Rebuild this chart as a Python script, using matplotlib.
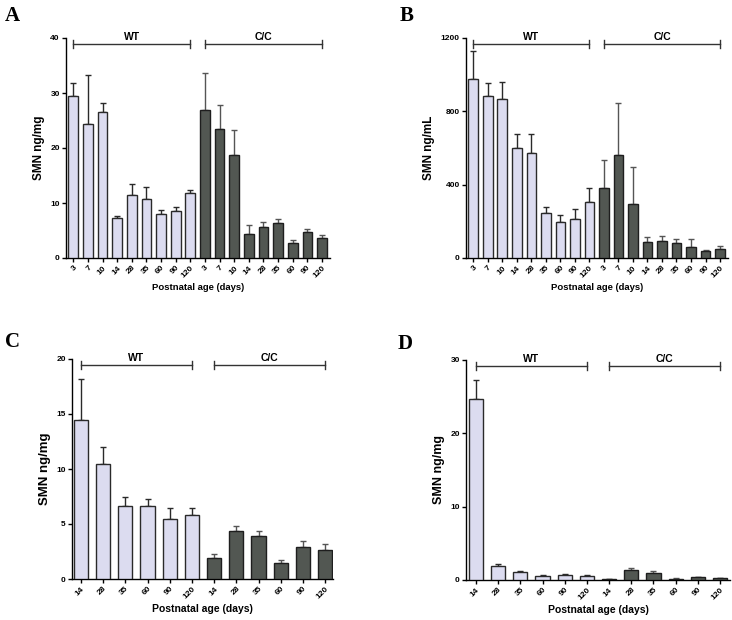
import matplotlib
matplotlib.use('Agg')
import matplotlib.pyplot as plt
import numpy as np

# DATA
ages_long = ['3', '7', '10', '14', '28', '35', '60', '90', '120']
ages_short = ['14', '28', '35', '60', '90', '120']

# Panel A
A_wt = [29.5, 24.4, 26.6, 7.2, 11.5, 10.8, 8.0, 8.6, 11.8]
A_wt_err = [2.3, 8.8, 1.6, 0.5, 1.9, 2.1, 0.8, 0.7, 0.6]
A_cc = [26.9, 23.5, 18.8, 4.4, 5.7, 6.3, 2.8, 4.7, 3.7]
A_cc_err = [6.7, 4.3, 4.5, 1.6, 0.8, 0.8, 0.4, 0.5, 0.5]

# Panel B
B_wt = [979, 886, 868, 602, 571, 247, 194, 214, 305]
B_wt_err = [148, 69, 91, 74, 103, 29, 38, 56, 77]
B_cc = [382, 562, 294, 87, 92, 82, 60, 38, 51]
B_cc_err = [155, 286, 201, 29, 29, 19, 45, 7, 14]

# Panel C
C_wt = [14.5, 10.5, 6.6, 6.6, 5.5, 5.8]
C_wt_err = [3.7, 1.5, 0.9, 0.7, 1.0, 0.65]
C_cc = [1.9, 4.33, 3.88, 1.5, 2.9, 2.6]
C_cc_err = [0.35, 0.5, 0.5, 0.27, 0.55, 0.55]

# Panel D
D_wt = [24.7, 1.95, 1.05, 0.6, 0.65, 0.55]
D_wt_err = [2.6, 0.25, 0.15, 0.07, 0.2, 0.07]
D_cc = [0.1, 1.35, 0.9, 0.18, 0.35, 0.22]
D_cc_err = [0.03, 0.35, 0.35, 0.05, 0.1, 0.1]

WT_COLOR = '#dcdcf0'
CC_COLOR = '#525752'

W, H = 732, 620
fig = plt.figure(figsize=(W / 100, H / 100), dpi=100)
plt.rcParams['font.family'] = ['Liberation Sans', 'DejaVu Sans']


def px_axes(left, top, right, bottom):
    return fig.add_axes([left / W, 1 - bottom / H, (right - left) / W, (bottom - top) / H])


def panel(ax, ages, wt, wt_err, cc, cc_err, ymax, yticks, ylabel, xlim,
          width, tick_fs, label_fs, ylabel_fs, group_fs):
    n = len(ages)
    x_wt = np.arange(n)
    x_cc = np.arange(n, 2 * n)
    ax.bar(x_wt, wt, width=width, color=WT_COLOR, edgecolor='#2a2a2a', linewidth=1.0, zorder=3)
    ax.bar(x_cc, cc, width=width, color=CC_COLOR, edgecolor='#1e1e1e', linewidth=1.0, zorder=3)
    ax.errorbar(x_wt, wt, yerr=[np.zeros(n), wt_err], fmt='none', ecolor='#2a2a2a',
                elinewidth=1.0, capsize=2.5, capthick=1.0, zorder=2)
    ax.errorbar(x_cc, cc, yerr=[np.zeros(n), cc_err], fmt='none', ecolor='#555555',
                elinewidth=1.0, capsize=2.5, capthick=1.0, zorder=2)

    ax.set_ylim(0, ymax)
    ax.set_xlim(*xlim)
    ax.set_yticks(yticks)
    ax.set_xticks(np.arange(2 * n))
    ax.set_xticklabels(ages + ages, rotation=45, ha='right', rotation_mode='anchor',
                       fontsize=tick_fs, fontweight='bold')
    for lbl in ax.get_yticklabels():
        lbl.set_fontsize(tick_fs)
        lbl.set_fontweight('bold')
    ax.tick_params(axis='both', direction='out', length=3, width=1, pad=1.5)
    for s in ['top', 'right']:
        ax.spines[s].set_visible(False)
    for s in ['left', 'bottom']:
        ax.spines[s].set_linewidth(1.0)
    ax.set_ylabel(ylabel, fontsize=ylabel_fs, fontweight='bold', labelpad=4)
    ax.set_xlabel('Postnatal age (days)', fontsize=label_fs, fontweight='bold', labelpad=3)

    # group brackets
    yb = ymax * 0.972
    cap = ymax * 0.018
    for x0, x1, name in [(0, n - 1, 'WT'), (n, 2 * n - 1, 'C/C')]:
        ax.plot([x0, x1], [yb, yb], color='#333333', lw=1.0, clip_on=False)
        ax.plot([x0, x0], [yb - cap, yb + cap], color='#333333', lw=1.0, clip_on=False)
        ax.plot([x1, x1], [yb - cap, yb + cap], color='#333333', lw=1.0, clip_on=False)
        ax.text((x0 + x1) / 2, yb + ymax * 0.012, name, ha='center', va='bottom',
                fontsize=group_fs, fontweight='bold', clip_on=False)


axA = px_axes(66, 38, 330, 258)
panel(axA, ages_long, A_wt, A_wt_err, A_cc, A_cc_err, 40, [0, 10, 20, 30, 40],
      'SMN ng/mg', (-0.5, 17.55), 0.66, 6, 6.8, 8.5, 7.5)

axB = px_axes(466, 38, 728, 258)
panel(axB, ages_long, B_wt, B_wt_err, B_cc, B_cc_err, 1200, [0, 400, 800, 1200],
      'SMN ng/mL', (-0.5, 17.55), 0.66, 6, 6.8, 8.5, 7.5)

axC = px_axes(72, 359, 333, 579)
panel(axC, ages_short, C_wt, C_wt_err, C_cc, C_cc_err, 20, [0, 5, 10, 15, 20],
      'SMN ng/mg', (-0.4, 11.35), 0.64, 6, 7.5, 9.5, 7.5)

axD = px_axes(466, 360, 730, 580)
panel(axD, ages_short, D_wt, D_wt_err, D_cc, D_cc_err, 30, [0, 10, 20, 30],
      'SMN ng/mg', (-0.45, 11.45), 0.64, 6, 7.5, 9.0, 7.5)

# panel letters
for letter, x, y in [('A', 5, 6), ('B', 400, 6), ('C', 5, 332), ('D', 398, 334)]:
    fig.text(x / W, 1 - y / H, letter, fontsize=15, fontweight='bold',
             family=['Liberation Serif', 'DejaVu Serif'], ha='left', va='top')

fig.savefig('out.png', dpi=100)
